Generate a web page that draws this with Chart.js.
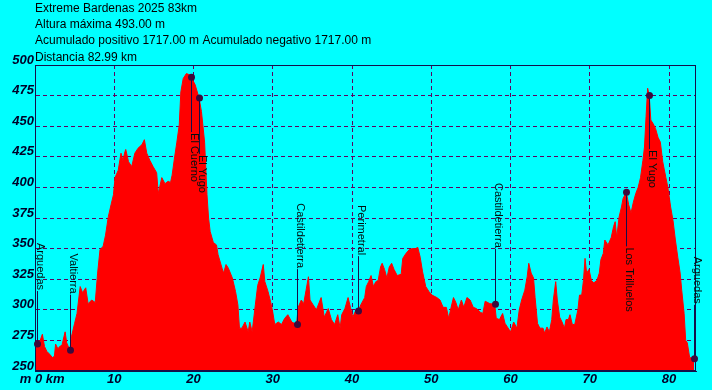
<!DOCTYPE html>
<html>
<head>
<meta charset="utf-8">
<title>Extreme Bardenas 2025 83km</title>
<script src="https://cdn.jsdelivr.net/npm/chart.js@4.4.1/dist/chart.umd.min.js"></script>
<style>
  html, body { margin: 0; padding: 0; background: #00ffff; }
  #wrap { width: 712px; height: 390px; position: relative; }
</style>
</head>
<body>
<div id="wrap"><canvas id="profile"></canvas></div>
<script>
let ctx = document.getElementById('profile').getContext('2d')

// header text, top left
let headerLines = [
  'Extreme Bardenas 2025 83km',
  'Altura máxima 493.00 m',
  'Acumulado positivo 1717.00 m Acumulado negativo 1717.00 m',
  'Distancia 82.99 km'
]

// profile -> km / metres
let distances = [
  0.0, 0.3, 0.6, 0.93, 1.2, 1.5, 1.8, 2.2, 2.45, 2.6, 2.9, 3.1, 3.4, 3.8, 4.0, 4.4, 4.6, 5.0, 5.3, 5.7,
  6.0, 6.4, 6.7, 7.15, 7.6, 7.9, 8.2, 8.6, 8.9, 9.25, 9.6, 9.9, 10.1, 10.5, 10.85, 11.1, 11.3, 11.45, 11.8, 12.2,
  12.6, 13.0, 13.5, 13.8, 14.1, 14.5, 14.9, 15.35, 15.55, 16.0, 16.4, 16.8, 17.1, 17.3, 17.6, 17.9, 18.2, 18.4, 18.7, 19.1,
  19.5, 19.7, 20.2, 20.7, 21.0, 21.4, 21.7, 21.9, 22.1, 22.5, 22.9, 23.1, 23.6, 23.8, 24.1, 24.4, 24.9, 25.3, 25.6, 25.8,
  26.1, 26.5, 26.9, 27.1, 27.4, 27.8, 28.1, 28.4, 28.8, 29.0, 29.4, 29.75, 30.0, 30.25, 30.7, 31.1, 31.5, 31.9, 32.4, 33.0,
  33.2, 33.6, 33.9, 34.2, 34.5, 34.7, 35.1, 35.5, 36.1, 36.5, 37.0, 37.4, 37.8, 38.2, 38.5, 38.7, 39.1, 39.5, 39.8, 40.1,
  40.5, 40.8, 41.1, 41.6, 41.8, 42.1, 42.4, 42.7, 43.0, 43.3, 43.6, 43.8, 44.1, 44.4, 44.7, 45.0, 45.3, 45.7, 46.2, 46.4,
  46.8, 47.2, 47.6, 48.0, 48.3, 48.6, 48.9, 49.3, 49.7, 50.1, 50.7, 51.1, 51.5, 51.9, 52.2, 52.5, 52.8, 53.1, 53.4, 53.8,
  54.1, 54.5, 54.9, 55.3, 55.7, 56.2, 56.5, 56.8, 57.4, 58.0, 58.2, 58.6, 59.0, 59.3, 59.6, 60.0, 60.4, 60.8, 61.1, 61.4,
  61.8, 62.1, 62.3, 62.6, 62.9, 63.1, 63.4, 63.7, 64.1, 64.3, 64.6, 64.9, 65.2, 65.4, 65.7, 65.9, 66.2, 66.5, 66.8, 67.0,
  67.3, 67.5, 67.8, 68.1, 68.5, 68.7, 68.98, 69.2, 69.4, 69.6, 69.9, 70.2, 70.5, 70.9, 71.2, 71.4, 71.7, 71.9, 72.3, 72.7,
  73.0, 73.2, 73.4, 73.7, 74.0, 74.2, 74.6, 74.9, 75.2, 75.5, 75.8, 76.1, 76.4, 76.7, 76.9, 77.1, 77.3, 77.5, 77.7, 78.0,
  78.3, 78.6, 78.9, 79.2, 79.6, 79.85, 80.2, 80.5, 80.8, 81.1, 81.4, 81.6, 81.9, 82.1, 82.3, 82.6, 83.15
]
let altitudes = [
  268, 272, 274, 280, 270, 266, 264, 261, 262, 272, 268, 270, 271, 282, 273, 267, 278, 289, 297, 319,
  314, 318, 305, 308, 306, 330, 349, 352, 361, 376, 386, 394, 408, 414, 428, 422, 428, 431, 421, 417,
  428, 432, 435, 439, 428, 422, 417, 412, 395, 408, 403, 405, 404, 410, 424, 437, 451, 478, 489, 493,
  492, 490, 484, 473, 462, 437, 394, 375, 364, 355, 353, 345, 334, 330, 337, 334, 326, 315, 304, 285,
  285, 290, 282, 290, 282, 304, 320, 326, 337, 323, 315, 306, 298, 288, 290, 288, 293, 296, 290, 288,
  302, 308, 305, 316, 327, 308, 304, 300, 310, 294, 301, 292, 288, 296, 285, 296, 301, 310, 302, 294,
  300, 299, 304, 310, 319, 323, 328, 319, 323, 324, 335, 338, 333, 326, 335, 338, 333, 328, 329, 342,
  346, 349, 350, 350, 351, 343, 331, 319, 315, 312, 310, 308, 302, 302, 293, 302, 310, 306, 300, 308,
  302, 310, 308, 302, 301, 298, 297, 307, 305, 304.6, 293, 292, 297, 289, 286, 282, 290, 285, 300, 308,
  316, 327, 338, 330, 326, 310, 289, 285, 285, 281, 286, 282, 292, 308, 323, 308, 294, 290, 285, 292,
  292, 296, 288, 288, 300, 312, 312, 324, 342, 330, 333, 324, 322, 324, 330, 341, 346, 357, 353, 359,
  368, 372, 359, 376, 384, 391, 396, 386, 379, 388, 395, 400, 408, 422, 433, 458, 481, 475, 455, 452,
  448, 441, 437, 421, 408, 400, 384, 373, 357, 343, 330, 316, 297, 275, 273, 261, 260
]

// waypoints
let wpNames = ['Arguedas', 'Valtierra', 'El Cuerno', 'El Yugo', 'Castildetierra', 'Perimetral',
               'Castildetierra', 'Los Trilluelos', 'El Yugo', 'Arguedas']
let wpKm    = [0.3, 4.4, 19.7, 20.7, 33.0, 40.8, 58.0, 74.6, 77.5, 83.15]
let wpAlt   = [272, 267, 490, 473, 288, 299, 304.6, 396, 475, 260]
let wpLabelAlt = [354.6, 346, 444.4, 426.5, 387, 385.6, 403.6, 351, 430.5, 343.4] // where the name starts

// axes
let xTicks = [0, 10, 20, 30, 40, 50, 60, 70, 80]
let yTicks = [250, 275, 300, 325, 350, 375, 400, 425, 450, 475, 500]
let xMax = 83.4

let tickFont = { family: '"Liberation Sans", Arial, sans-serif', size: 13, style: 'italic', weight: 'bold' }
let gridColor = '#600060'
let frameColor = '#14104a'

//// header + waypoint marks, drawn after everything so the grid stays under them
const extrasPlugin = {
  id: 'extras',
  afterDraw: (chart) => {
    let c = chart.ctx
    let xs = chart.scales.x
    let ys = chart.scales.y
    let area = chart.chartArea
    c.save()

    // frame
    c.strokeStyle = frameColor
    c.lineWidth = 1
    c.strokeRect(Math.round(area.left) + 0.5, Math.round(area.top) + 0.5,
                 Math.round(area.width) - 1, Math.round(area.height) - 1)

    // header
    c.fillStyle = '#000'
    c.font = '12px "Liberation Sans", Arial, sans-serif'
    c.textBaseline = 'middle'
    c.textAlign = 'left'
    headerLines.forEach((t, i) => c.fillText(t, 35, 8.5 + i * 16.3))

    // waypoints
    c.font = '11px "Liberation Sans", Arial, sans-serif'
    c.textBaseline = 'alphabetic'
    for (let i = 0; i < wpNames.length; i++) {
      let px = Math.round(xs.getPixelForValue(wpKm[i])) + 0.5
      let py = ys.getPixelForValue(wpAlt[i])
      let ly = ys.getPixelForValue(wpLabelAlt[i])
      let w = c.measureText(wpNames[i]).width

      c.strokeStyle = frameColor
      c.beginPath()
      if (ly > py) { c.moveTo(px, py); c.lineTo(px, ly - 1) }
      else { c.moveTo(px, ly + w + 1); c.lineTo(px, py) }
      c.stroke()

      c.save()
      c.translate(px - 1, ly)
      c.rotate(Math.PI / 2)
      c.fillStyle = '#001010'
      c.fillText(wpNames[i], 0, 0)
      c.restore()

      c.fillStyle = '#3c0a3c'
      c.beginPath()
      c.arc(px, py, 3.5, 0, Math.PI * 2)
      c.fill()
    }
    c.restore()
  }
}

let chart = new Chart(ctx, {
  type: 'line',
  data: {
    datasets: [{
      label: 'perfil',
      data: distances.map((d, i) => ({ x: d, y: altitudes[i] })),
      backgroundColor: '#ff0000',
      borderColor: '#ff0000',
      borderWidth: 1,
      pointRadius: 0,
      tension: 0,
      fill: 'start'
    }]
  },
  options: {
    responsive: true,
    maintainAspectRatio: false,
    animation: false,
    layout: { padding: { top: 65, right: 16, left: 0, bottom: 0 } },
    plugins: { legend: { display: false }, tooltip: { enabled: false } },
    scales: {
      x: {
        type: 'linear',
        min: 0,
        max: xMax,
        z: 1,
        afterBuildTicks: (s) => { s.ticks = xTicks.map(v => ({ value: v })) },
        afterFit: (s) => { s.height = 19 },
        ticks: {
          font: tickFont,
          color: '#000028',
          padding: 1,
          maxRotation: 0,
          autoSkip: false,
          callback: (v) => v === 0 ? '    m 0 km' : v
        },
        grid: { color: gridColor, lineWidth: 1, drawTicks: false },
        border: { display: true, color: frameColor, dash: [4, 3] }
      },
      y: {
        min: 250,
        max: 500,
        z: 1,
        afterBuildTicks: (s) => { s.ticks = yTicks.map(v => ({ value: v })) },
        afterFit: (s) => { s.width = 35 },
        ticks: {
          font: tickFont,
          color: '#000028',
          padding: 1,
          labelOffset: -5,
          autoSkip: false
        },
        grid: { color: gridColor, lineWidth: 1, drawTicks: false },
        border: { display: true, color: frameColor, dash: [4, 3] }
      }
    }
  },
  plugins: [extrasPlugin]
})
</script>
</body>
</html>
